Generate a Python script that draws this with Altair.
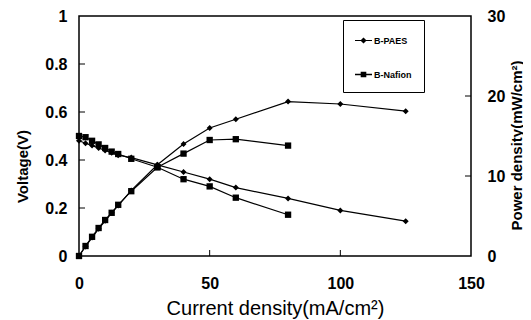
import altair as alt
import pandas as pd

# ---- data ----
I_PAES = [0, 2.5, 5, 7.5, 10, 12.5, 15, 20, 30, 40, 50, 60, 80, 100, 125]
V_PAES = [0.48, 0.47, 0.46, 0.45, 0.44, 0.43, 0.42, 0.41, 0.38, 0.35, 0.32, 0.285, 0.24, 0.19, 0.145]
P_PAES = [0, 1.2, 2.3, 3.4, 4.4, 5.4, 6.3, 8.2, 11.4, 14.0, 16.0, 17.1, 19.3, 19.0, 18.1]

I_NAF = [0, 2.5, 5, 7.5, 10, 12.5, 15, 20, 30, 40, 50, 60, 80]
V_NAF = [0.50, 0.495, 0.48, 0.465, 0.45, 0.435, 0.425, 0.405, 0.37, 0.32, 0.29, 0.243, 0.172]
P_NAF = [0, 1.25, 2.4, 3.5, 4.5, 5.4, 6.4, 8.1, 11.1, 12.8, 14.5, 14.6, 13.8]

SERIES = ["B-PAES", "B-Nafion"]
X_TICKS = [0, 50, 100, 150]
V_TICKS = [0, 0.2, 0.4, 0.6, 0.8, 1]
P_TICKS = [0, 10, 20, 30]

FONT = "Liberation Sans"

dfV = pd.DataFrame({
    "I": I_PAES + I_NAF,
    "V": V_PAES + V_NAF,
    "series": [SERIES[0]] * len(I_PAES) + [SERIES[1]] * len(I_NAF),
})
dfP = pd.DataFrame({
    "I": I_PAES + I_NAF,
    "P": P_PAES + P_NAF,
    "series": [SERIES[0]] * len(I_PAES) + [SERIES[1]] * len(I_NAF),
})

xEnc = alt.X(
    "I:Q",
    scale=alt.Scale(domain=[0, 150], nice=False),
    axis=alt.Axis(values=X_TICKS, title="Current density(mA/cm²)", titleFontSize=20,
                  titleFontWeight="normal", labelPadding=19, titlePadding=7, labelFlush=False),
)
yV = alt.Y(
    "V:Q",
    scale=alt.Scale(domain=[0, 1], nice=False),
    axis=alt.Axis(values=V_TICKS, format="~g", title="Voltage(V)", titleFontSize=15,
                  titleFontWeight="bold", titleAngle=270, titleX=-57, titleY=150,
                  titleBaseline="middle", labelPadding=12, labelFlush=False),
)
yP = alt.Y(
    "P:Q",
    scale=alt.Scale(domain=[0, 30], nice=False),
    axis=alt.Axis(orient="right", values=P_TICKS, title="Power density(mW/cm²)",
                  titleFontSize=15, titleFontWeight="bold", titleAngle=270, titleX=45,
                  titleY=129, titleBaseline="middle", labelPadding=16, labelFlush=False),
)

shapeEnc = alt.Shape("series:N", scale=alt.Scale(domain=SERIES, range=["diamond", "square"]), legend=None)
sizeEnc = alt.Size("series:N", scale=alt.Scale(domain=SERIES, range=[36, 40]), legend=None)

lineV = alt.Chart(dfV).mark_line(color="black", strokeWidth=1.2).encode(x=xEnc, y=yV, detail="series:N")
ptsV = alt.Chart(dfV).mark_point(filled=True, color="black", opacity=1).encode(x=xEnc, y=yV, shape=shapeEnc, size=sizeEnc)
tickL = alt.Chart(pd.DataFrame({"V": V_TICKS[1:-1]})).mark_rule(color="black", strokeWidth=1).encode(
    y=yV, x=alt.value(0), x2=alt.value(6))
tickB = alt.Chart(pd.DataFrame({"I": X_TICKS[1:-1]})).mark_rule(color="black", strokeWidth=1).encode(
    x=xEnc, y=alt.value(240), y2=alt.value(234))
layerV = alt.layer(lineV, ptsV, tickL, tickB)

lineP = alt.Chart(dfP).mark_line(color="black", strokeWidth=1.2).encode(x=xEnc, y=yP, detail="series:N")
ptsP = alt.Chart(dfP).mark_point(filled=True, color="black", opacity=1).encode(x=xEnc, y=yP, shape=shapeEnc, size=sizeEnc)
tickR = alt.Chart(pd.DataFrame({"P": P_TICKS[1:-1]})).mark_rule(color="black", strokeWidth=1).encode(
    y=yP, x=alt.value(392), x2=alt.value(386))
layerP = alt.layer(lineP, ptsP, tickR)

# legend glyphs: a thin bar (the line) plus the marker, both filled
PATH_D = "M-1,-0.07L1,-0.07L1,0.07L-1,0.07Z M0,-0.36L0.36,0L0,0.36L-0.36,0Z"
PATH_S = "M-1,-0.08L1,-0.08L1,0.08L-1,0.08Z M-0.33,-0.33L0.33,-0.33L0.33,0.33L-0.33,0.33Z"

legendLayer = alt.Chart(dfV).transform_filter("false").mark_point(
    filled=True, color="black", size=289, opacity=1
).encode(
    shape=alt.Shape(
        "series:N",
        scale=alt.Scale(domain=SERIES, range=[PATH_D, PATH_S]),
        legend=alt.Legend(
            title=None, orient="none", legendX=264, legendY=4, padding=12,
            strokeColor="black", fillColor="white", rowPadding=20,
            labelFont=FONT, labelFontSize=9, labelFontWeight="bold", labelColor="black",
            labelOffset=2, symbolSize=289, symbolFillColor="black",
            symbolStrokeWidth=0, symbolOpacity=1,
        ),
    )
)

chart = alt.layer(layerV, layerP, legendLayer).resolve_scale(
    y="independent", shape="independent", size="independent"
).properties(
    width=392, height=240,
    autosize=alt.AutoSizeParams(type="none"),
    padding={"left": 71, "top": 8, "right": 52, "bottom": 64},
    background="white",
).configure_view(
    stroke="black", strokeWidth=1.5
).configure_axis(
    grid=False, domain=False, ticks=False,
    labelFont=FONT, labelFontSize=16, labelFontWeight="bold", labelColor="black",
    titleFont=FONT, titleColor="black",
)

chart.save("out.html", embed_options={"renderer": "svg", "actions": False})
